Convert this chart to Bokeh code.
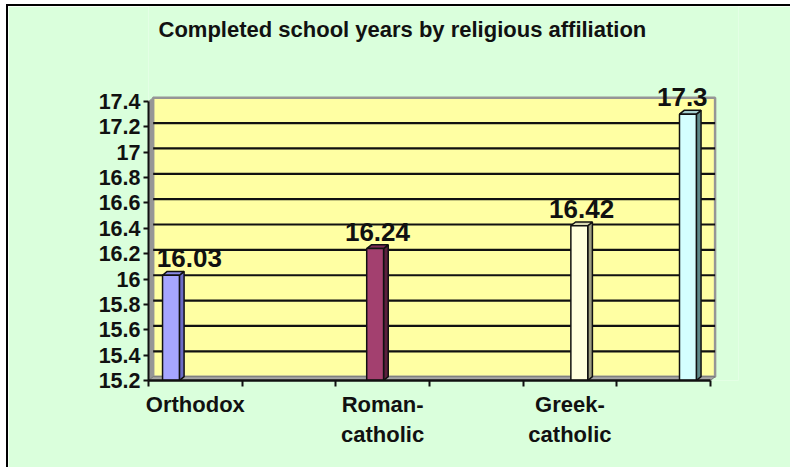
from bokeh.plotting import figure
from bokeh.models import FixedTicker, NumeralTickFormatter, ColumnDataSource, Range1d, Label
from bokeh.core.properties import value
from bokeh.embed import file_html
from bokeh.resources import INLINE

# ---- data ----
title_text = "Completed school years by religious affiliation"
categories = ["Orthodox", "Roman-catholic", "Greek-catholic", ""]
values = [16.03, 16.24, 16.42, 17.3]
value_labels = ["16.03", "16.24", "16.42", "17.3"]
y_ticks = [15.2, 15.4, 15.6, 15.8, 16.0, 16.2, 16.4, 16.6, 16.8, 17.0, 17.2, 17.4]
x_label_ticks = [0.5, 2.5, 4.5]
x_label_text = ["Orthodox", "Roman-\ncatholic", "Greek-\ncatholic"]
x_slot_ticks = [0, 1, 2, 3, 4, 5, 6]

# ---- layout / style constants ----
bar_slots = [0.24, 2.42, 4.60, 5.76]
label_dx = [16, 0, 0, -8]
bar_w = 0.18
dx, dy = 0.05, 0.03
front = ["#A6A6FF", "#A3406F", "#FFFFDD", "#D4FFFF"]
side = ["#6C6CC4", "#5C1F3D", "#9E9E80", "#5E8A8A"]
topc = ["#8A8AE6", "#7E2D56", "#D8D8B4", "#A6D0D0"]
GREEN = "#DAFFDC"
YELLOW = "#FFFFA3"
GRAY = "#969696"
FONT = "Liberation Sans"
W, H = 784, 463
MB_BOTTOM = 89

y0 = y_ticks[0]
ymax = y_ticks[-1]
xmax = x_slot_ticks[-1]

p = figure(width=W, height=H, output_backend="svg", toolbar_location=None,
           x_range=Range1d(0, 6.3), y_range=Range1d(15.2, 18.149),
           min_border_left=140, min_border_right=54, min_border_top=0,
           min_border_bottom=MB_BOTTOM)
p.title = None
p.styles = {"margin-left": "6px", "margin-top": "4px",
            "border-left": "2px solid #000", "border-top": "2px solid #000"}
p.background_fill_color = GREEN
p.border_fill_color = GREEN
p.outline_line_color = None
p.xgrid.visible = False
p.ygrid.visible = False

# chart title (screen units measured from the frame's lower-left corner)
p.add_layout(Label(x=10, y=(H - MB_BOTTOM) - 23, x_units="screen", y_units="screen",
                   text=title_text, text_font=FONT, text_font_size="22px",
                   text_font_style="bold", text_color="#111111",
                   text_align="left", text_baseline="alphabetic"))

# back wall
p.quad(left=[dx], right=[xmax + dx], bottom=[y0 + dy], top=[ymax + dy],
       fill_color=YELLOW, line_color=GRAY, line_width=2.5)
# left side wall
p.patch(x=[0, dx, dx, 0], y=[y0, y0 + dy, ymax + dy, ymax],
        fill_color=GRAY, line_color=GRAY, line_width=1)
# floor
p.patch(x=[0, xmax, xmax + dx, dx], y=[y0, y0, y0 + dy, y0 + dy],
        fill_color="#A6A6A6", line_color="#7A7A7A", line_width=1)
# gridlines
gl = y_ticks[1:-1]
p.segment(x0=[dx] * len(gl), x1=[xmax + dx] * len(gl),
          y0=[g + dy for g in gl], y1=[g + dy for g in gl],
          line_color="#111111", line_width=2.2)

# bars
for i, v in enumerate(values):
    xc = bar_slots[i]
    xl, xr = xc - bar_w / 2, xc + bar_w / 2
    p.patch(x=[xr, xr + dx, xr + dx, xr], y=[y0, y0 + dy, v + dy, v],
            fill_color=side[i], line_color="#111111", line_width=1.5)
    p.patch(x=[xl, xr, xr + dx, xl + dx], y=[v, v, v + dy, v + dy],
            fill_color=topc[i], line_color="#111111", line_width=1.5)
    p.quad(left=[xl], right=[xr], bottom=[y0], top=[v],
           fill_color=front[i], line_color="#111111", line_width=1.5)

src = ColumnDataSource(dict(x=[s + dx / 2 for s in bar_slots],
                            y=[v + dy for v in values],
                            t=value_labels, xo=label_dx))
p.text(x="x", y="y", text="t", x_offset="xo", y_offset=-13, source=src,
       text_font=value(FONT), text_font_style="bold", text_font_size="26px",
       text_align="center", text_baseline="alphabetic", text_color="#111111")

# axes
ya = p.yaxis[0]
ya.ticker = FixedTicker(ticks=y_ticks, minor_ticks=[])
ya.formatter = NumeralTickFormatter(format="0.[0]")
ya.bounds = (y0, ymax)
ya.axis_line_width = 2
ya.axis_line_color = "#111111"
ya.major_tick_out = 5
ya.major_tick_in = 0
ya.major_tick_line_width = 2
ya.major_tick_line_color = "#111111"
ya.minor_tick_line_color = None
ya.major_label_standoff = 3
ya.major_label_text_font = FONT
ya.major_label_text_font_style = "bold"
ya.major_label_text_font_size = "21.5px"
ya.major_label_text_color = "#111111"

xa = p.xaxis[0]
xa.ticker = FixedTicker(ticks=x_label_ticks, minor_ticks=x_slot_ticks)
xa.major_label_overrides = {t: s for t, s in zip(x_label_ticks, x_label_text)}
xa.bounds = (0, xmax)
xa.axis_line_width = 2.5
xa.axis_line_color = "#111111"
xa.major_tick_out = 0
xa.major_tick_in = 0
xa.minor_tick_out = 6
xa.minor_tick_in = 0
xa.minor_tick_line_width = 2
xa.minor_tick_line_color = "#111111"
xa.major_label_standoff = 5
xa.major_label_text_font = FONT
xa.major_label_text_font_style = "bold"
xa.major_label_text_font_size = "22px"
xa.major_label_text_color = "#111111"
xa.major_label_text_line_height = 1.2

open("out.html", "w").write(file_html(p, INLINE))
